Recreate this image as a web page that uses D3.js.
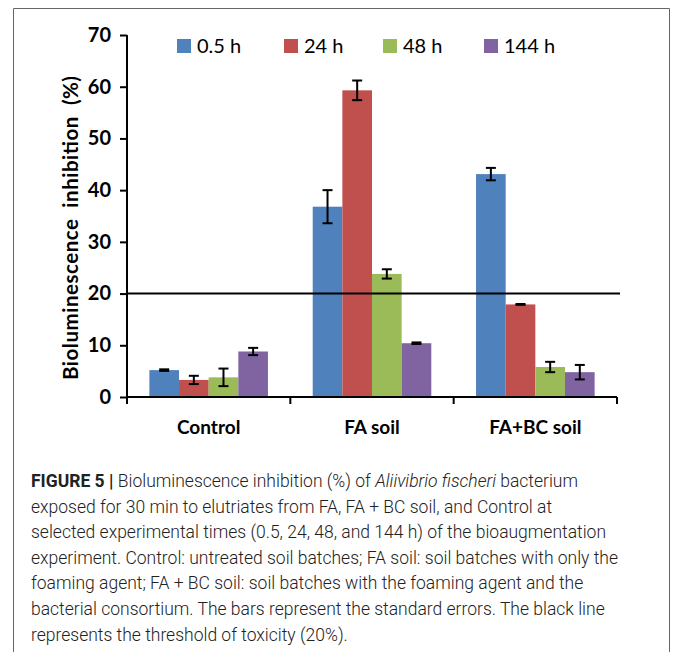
<!DOCTYPE html>
<html>
<head>
<meta charset="utf-8">
<script src="https://cdn.jsdelivr.net/npm/d3@7"></script>
<style>
  html, body { margin: 0; padding: 0; background: #fff; }
  svg { display: block; }
</style>
</head>
<body>
<svg id="chart" width="673" height="652"></svg>
<script>
// Soil treatments along the x axis
const categories = ["Control", "FA soil", "FA+BC soil"];
// Sampling times (legend entries)
const seriesNames = ["0.5 h", "24 h", "48 h", "144 h"];
const seriesColors = ["#4F81BD", "#C0504D", "#9BBB59", "#8064A2"];
// Bioluminescence inhibition (%) per time, ordered as categories
const inhib05 = [5.2, 36.8, 43.1];
const inhib24 = [3.3, 59.3, 17.9];
const inhib48 = [3.8, 23.8, 5.8];
const inhib144 = [8.8, 10.4, 4.8];
// Standard errors, same layout
const se05 = [0.15, 3.2, 1.2];
const se24 = [0.8, 1.9, 0.08];
const se48 = [1.7, 0.9, 1.0];
const se144 = [0.7, 0.15, 1.4];
// Toxicity threshold (%)
const threshold = 20;
// Y axis ticks
const yTicks = [0, 10, 20, 30, 40, 50, 60, 70];
// Caption lines
const captionLines = [
  [{t: "FIGURE 5 | ", w: "bold"}, {t: "Bioluminescence inhibition (%) of "}, {t: "Aliivibrio fischeri", s: "italic"}, {t: " bacterium"}],
  [{t: "exposed for 30 min to elutriates from FA, FA + BC soil, and Control at"}],
  [{t: "selected experimental times (0.5, 24, 48, and 144 h) of the bioaugmentation"}],
  [{t: "experiment. Control: untreated soil batches; FA soil: soil batches with only the"}],
  [{t: "foaming agent; FA + BC soil: soil batches with the foaming agent and the"}],
  [{t: "bacterial consortium. The bars represent the standard errors. The black line"}],
  [{t: "represents the threshold of toxicity (20%)."}]
];

const values = [inhib05, inhib24, inhib48, inhib144];
const errors = [se05, se24, se48, se144];

const svg = d3.select("#chart");

// Figure frame (open at the bottom)
svg.append("path")
  .attr("d", "M13.5,652 V8.5 H669.5 V652")
  .attr("fill", "none")
  .attr("stroke", "#666")
  .attr("stroke-width", 1);

const plot = {left: 127, right: 617, top: 35, bottom: 397};

const y = d3.scaleLinear().domain([0, 70]).range([plot.bottom, plot.top]);
const x0 = d3.scaleBand().domain(categories).range([plot.left, plot.right]).padding(0);
const bw = x0.bandwidth();
const x1 = d3.scaleBand().domain(seriesNames).range([bw * 0.137, bw * 0.863]).padding(0);

// Bars
const rows = [];
categories.forEach((c, ci) => {
  seriesNames.forEach((s, si) => {
    rows.push({c, s, si, v: values[si][ci], e: errors[si][ci]});
  });
});

const g = svg.append("g");
g.selectAll("rect.bar")
  .data(rows)
  .join("rect")
  .attr("class", "bar")
  .attr("x", d => x0(d.c) + x1(d.s))
  .attr("y", d => y(d.v))
  .attr("width", x1.bandwidth())
  .attr("height", d => y(0) - y(d.v))
  .attr("fill", d => seriesColors[d.si]);

// Error bars
const eb = g.selectAll("g.err").data(rows).join("g").attr("class", "err")
  .attr("transform", d => `translate(${x0(d.c) + x1(d.s) + x1.bandwidth() / 2},0)`);
eb.append("line")
  .attr("x1", 0).attr("x2", 0)
  .attr("y1", d => y(d.v + d.e)).attr("y2", d => y(d.v - d.e))
  .attr("stroke", "#000").attr("stroke-width", 2);
eb.append("line")
  .attr("x1", -5).attr("x2", 5)
  .attr("y1", d => y(d.v + d.e)).attr("y2", d => y(d.v + d.e))
  .attr("stroke", "#000").attr("stroke-width", 2);
eb.append("line")
  .attr("x1", -5).attr("x2", 5)
  .attr("y1", d => y(d.v - d.e)).attr("y2", d => y(d.v - d.e))
  .attr("stroke", "#000").attr("stroke-width", 2);

// Threshold line
svg.append("line")
  .attr("x1", plot.left).attr("x2", plot.right + 3)
  .attr("y1", y(threshold)).attr("y2", y(threshold))
  .attr("stroke", "#000").attr("stroke-width", 2);

// Y axis
const yAxis = svg.append("g")
  .attr("transform", `translate(${plot.left},0)`)
  .call(d3.axisLeft(y).tickValues(yTicks).tickSize(7).tickSizeOuter(0).tickPadding(9).tickFormat(d3.format("d")));
yAxis.select(".domain").attr("stroke", "#000").attr("stroke-width", 2)
  .attr("d", `M0,${plot.top} V${plot.bottom + 7}`);
yAxis.selectAll(".tick line").attr("stroke", "#000").attr("stroke-width", 2);
yAxis.selectAll(".tick text")
  .attr("font-family", "Lato, 'Open Sans', sans-serif")
  .attr("font-weight", "bold")
  .attr("font-size", 20)
  .attr("fill", "#000");

// X axis
const xAxis = svg.append("g")
  .attr("transform", `translate(0,${plot.bottom})`)
  .call(d3.axisBottom(x0).tickSize(0).tickPadding(24));
xAxis.select(".domain").attr("stroke", "#000").attr("stroke-width", 2)
  .attr("d", `M${plot.left},0 H${plot.right}`);
xAxis.selectAll(".tick text")
  .attr("font-family", "Lato, 'Open Sans', sans-serif")
  .attr("font-weight", "bold")
  .attr("font-size", 19)
  .attr("fill", "#000");
// Category boundary ticks
const bounds = categories.map(c => x0(c)).concat([x0.range()[1]]);
xAxis.selectAll("line.bound")
  .data(bounds)
  .join("line")
  .attr("class", "bound")
  .attr("x1", d => d).attr("x2", d => d)
  .attr("y1", 0).attr("y2", 7)
  .attr("stroke", "#000").attr("stroke-width", 2);

// Y axis title
svg.append("text")
  .attr("transform", "translate(78,228) rotate(-90)")
  .attr("text-anchor", "middle")
  .attr("font-family", "Lato, 'Open Sans', sans-serif")
  .attr("font-weight", "bold")
  .attr("font-size", 20.5)
  .attr("fill", "#000")
  .style("white-space", "pre")
  .attr("textLength", 304)
  .attr("lengthAdjust", "spacing")
  .text("Bioluminescence  inhibition  (%)");

// Legend
const legendX = [177, 284, 383, 484];
const legend = svg.append("g").selectAll("g")
  .data(seriesNames)
  .join("g")
  .attr("transform", (d, i) => `translate(${legendX[i]},46)`);
legend.append("rect")
  .attr("x", 0).attr("y", -7).attr("width", 14).attr("height", 14)
  .attr("fill", (d, i) => seriesColors[i]);
legend.append("text")
  .attr("x", 20).attr("y", 7)
  .attr("font-family", "Lato, 'Open Sans', sans-serif")
  .attr("font-size", 20)
  .attr("fill", "#000")
  .text(d => d);

// Caption
const cap = svg.append("text")
  .attr("font-family", "Roboto, 'Liberation Sans', sans-serif")
  .attr("font-weight", 300)
  .attr("font-size", 17.5)
  .attr("fill", "#222");
captionLines.forEach((line, li) => {
  line.forEach((seg, si) => {
    const ts = cap.append("tspan").text(seg.t);
    if (si === 0) ts.attr("x", 31).attr("y", 487 + li * 25.6);
    if (seg.w) ts.attr("font-weight", seg.w);
    if (seg.s) ts.attr("font-style", seg.s);
  });
});
</script>
</body>
</html>
